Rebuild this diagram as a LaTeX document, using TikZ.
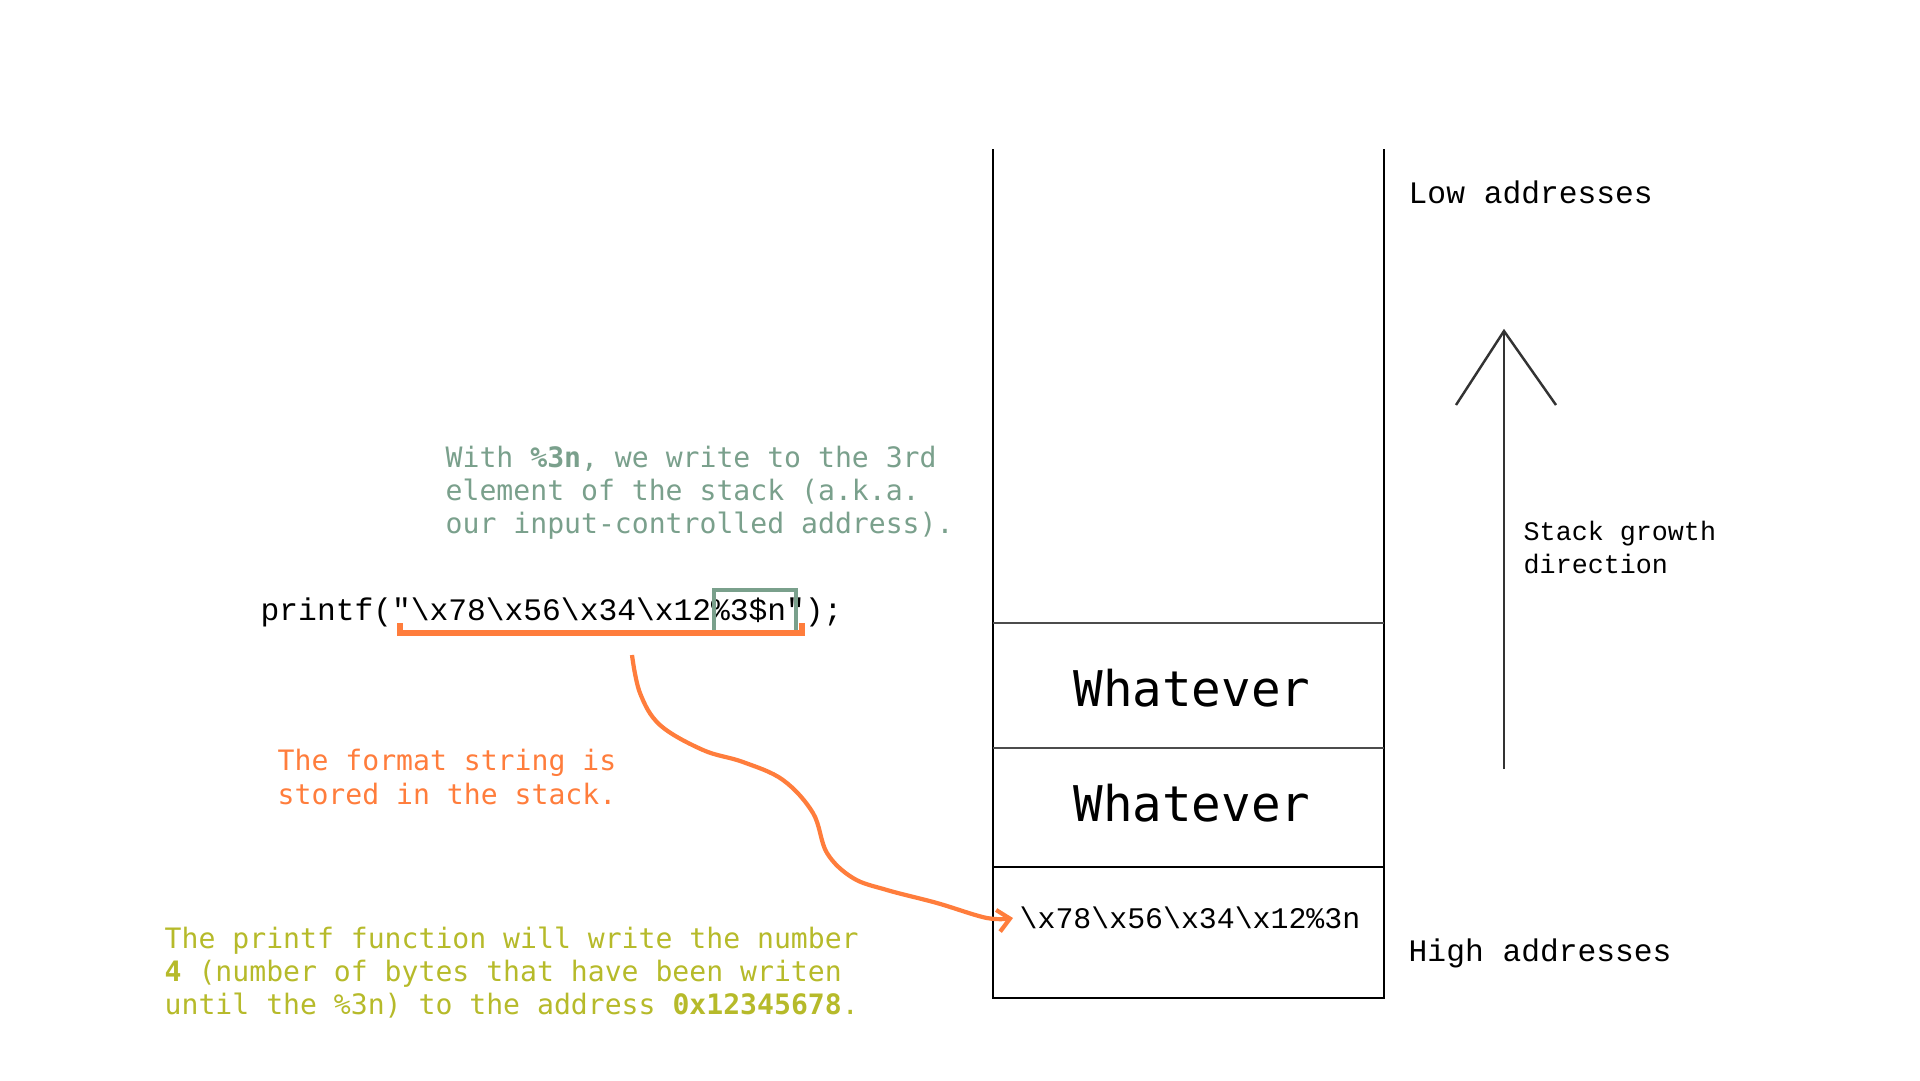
\documentclass[tikz,border=0pt]{standalone}
\usepackage{fontspec}
\setmainfont{Liberation Mono}
\setmonofont{Liberation Mono}
\newfontfamily\notefont{DejaVu Sans Mono}
\usetikzlibrary{positioning,arrows.meta}
\definecolor{notegreen}{RGB}{122,160,140}
\definecolor{noteorange}{RGB}{255,125,60}
\definecolor{noteolive}{RGB}{182,186,42}

\begin{document}
\begin{tikzpicture}[x=0.1mm, y=-0.1mm,
    every node/.style={inner sep=0pt},
    cell/.style={font=\notefont\fontsize{14}{16}\selectfont},
    code/.style={font=\ttfamily\fontsize{8.9}{10.5}\selectfont, anchor=west},
    note/.style={font=\notefont\fontsize{8}{9.4}\selectfont, align=left, anchor=west},
    wall/.style={line width=0.8pt, black},
    divider/.style={line width=0.8pt, black!70}]
    \useasboundingbox (0,0) rectangle (1920,1080);

    % la pile
    \draw[wall] (993,149) -- (993,998) -- (1384,998) -- (1384,149);
    \draw[divider] (993,623) -- (1384,623);
    \draw[divider] (993,748) -- (1384,748);
    \draw[wall] (993,867) -- (1384,867);

    % contenu des cases
    \node[cell] (whatever1) at (1192,688) {Whatever};
    \node[cell] (whatever2) at (1192,803) {Whatever};
    \node[code, font=\ttfamily\fontsize{8.5}{10}\selectfont] (payload) at (1019,918) {\textbackslash x78\textbackslash x56\textbackslash x34\textbackslash x12\%3n};

    % adresses
    \node[code] (low) at (1408,192) {Low addresses};
    \node[code] (high) at (1408,953) {High addresses};

    % sens de croissance
    \coordinate (growbot) at (1504,769);
    \coordinate (growtop) at (1504,331);
    \draw[line width=0.7pt, black!80] (growbot) -- (growtop);
    \draw[line width=0.7pt, black!80] (1456,405) -- (growtop) -- (1556,405);
    \node[font=\ttfamily\fontsize{7.6}{9.4}\selectfont, align=left, anchor=west] (growth) at (1523,547) {Stack growth\\direction};

    % appel printf
    \node[code] (call) at (260,612) {printf("\textbackslash x78\textbackslash x56\textbackslash x34\textbackslash x12\%3\$n");};
    \draw[notegreen, line width=1.2pt] (714,590) rectangle (796,633);
    \draw[noteorange, line width=1.5pt] (400,623) -- (400,633) -- (802,633) -- (802,623);

    % notes
    \node[note, text=notegreen] (offset) at (445,493) {With \textbf{\%3n}, we write to the 3rd\\element of the stack (a.k.a.\\our input-controlled address).};
    \node[note, text=noteorange] (stored) at (277,777) {The format string is\\stored in the stack.};
    \node[note, text=noteolive] (result) at (164,973) {The printf function will write the number\\\textbf{4} (number of bytes that have been writen\\until the \%3n) to the address \textbf{0x12345678}.};

    % fleche vers la pile
    \coordinate (fmt) at (632,655);
    \draw[noteorange, line width=1.2pt, -{Straight Barb[length=1.2mm, width=2.2mm]}]
        plot[smooth, tension=0.6] coordinates {(fmt) (640,693) (660,725) (703,750) (743,762) (783,780) (813,813) (827,853) (853,878) (887,890) (937,903) (987,918) ([xshift=-0.6mm]payload.west)};
\end{tikzpicture}
\end{document}
